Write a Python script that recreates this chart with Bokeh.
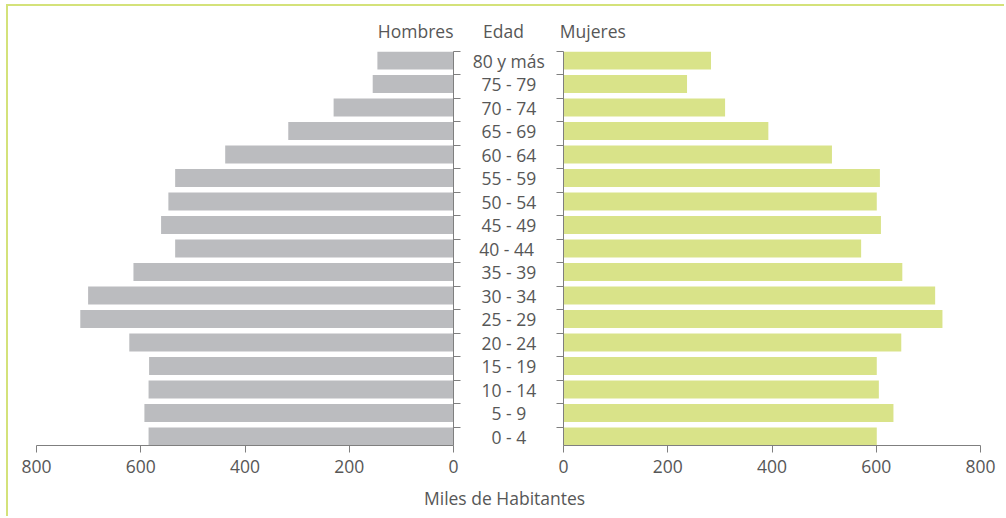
from bokeh.plotting import figure
from bokeh.models import Range1d, FixedTicker, ColumnDataSource
from bokeh.core.properties import value
from bokeh.embed import file_html
from bokeh.resources import INLINE

# ---- data ----
ages = ["0 - 4", "5 - 9", "10 - 14", "15 - 19", "20 - 24", "25 - 29", "30 - 34",
        "35 - 39", "40  - 44", "45 - 49", "50 - 54", "55 - 59", "60 - 64",
        "65 - 69", "70 - 74", "75 - 79", "80 y más"]
hombres = [585, 593, 585, 584, 622, 716, 701, 614, 534, 561, 547, 534, 438, 317, 230, 155, 146]
mujeres = [601, 633, 605, 601, 648, 727, 713, 650, 571, 609, 601, 607, 515, 393, 310, 237, 283]
x_ticks = [0, 200, 400, 600, 800]

# ---- style ----
FONT = "Open Sans"
TXT = "#575757"
AX = "#7F7F7F"
GRAY = "#BBBCBF"
GREEN = "#D9E389"
FRAME = "#D4E27A"
FS = "17.5px"

ys = list(range(len(ages)))
half = 0.383
yt = [y + half for y in ys]
src = ColumnDataSource(dict(age=ages, y=ys, h=hombres, m=mujeres))


def base(width, height, xr, yr, xloc, yloc, bl, br, bt, bb):
    f = figure(width=width, height=height, output_backend="svg", toolbar_location=None,
               tools="", x_range=xr, y_range=yr, x_axis_location=xloc, y_axis_location=yloc,
               min_border_left=bl, min_border_right=br, min_border_top=bt,
               min_border_bottom=bb, outline_line_color=None)
    f.xgrid.visible = False
    f.ygrid.visible = False
    return f


def style_axes(f):
    for ax in f.axis:
        ax.axis_line_color = AX
        ax.axis_line_width = 1
        ax.major_tick_line_color = AX
        ax.major_tick_in = 0
        ax.major_tick_out = 7
        ax.minor_tick_line_color = None
        ax.major_label_text_font = FONT
        ax.major_label_text_font_size = FS
        ax.major_label_text_color = TXT
        ax.major_label_standoff = 7
    for ax in f.yaxis:
        ax.ticker = FixedTicker(ticks=yt)
        ax.major_label_text_font_size = "0px"
        ax.major_label_text_color = None
        ax.major_label_standoff = 0
    for ax in f.xaxis:
        ax.ticker = FixedTicker(ticks=x_ticks)


# ---- text layer (full page, green frame) ----
pT = base(998, 512, Range1d(-1064.7, 849.9), Range1d(-3.489, 18.298), None, None, 0, 0, 0, 0)
pT.styles = {"position": "absolute", "left": "6px", "top": "4px",
             "border-top": f"2px solid {FRAME}", "border-left": f"2px solid {FRAME}"}
tkw = dict(text_font=value(FONT), text_font_size=FS, text_color=TXT)
pT.text(x=-104.9, y="y", text="age", source=src, text_align="center",
        text_baseline="middle", **tkw)
pT.text(x=[-211], y=[17.25], text=["Hombres"], text_align="right",
        text_baseline="alphabetic", **tkw)
pT.text(x=[-115], y=[17.25], text=["Edad"], text_align="center",
        text_baseline="alphabetic", **tkw)
pT.text(x=[-7], y=[17.25], text=["Mujeres"], text_align="left",
        text_baseline="alphabetic", **tkw)
pT.text(x=[-113], y=[-2.6], text=["Miles de Habitantes"], text_align="center",
        text_baseline="alphabetic", **tkw)

# ---- Hombres panel ----
pL = base(461, 449, Range1d(800, 0), Range1d(-half, len(ages) - 1 + half),
          "below", "right", 24, 20, 10, 45)
pL.background_fill_color = None
pL.border_fill_color = None
pL.styles = {"position": "absolute", "left": "12px", "top": "41px"}
pL.hbar(y="y", left=0, right="h", height=0.766, source=src, fill_color=GRAY, line_color=None)
style_axes(pL)

# ---- Mujeres panel ----
pR = base(461, 449, Range1d(0, 800), Range1d(-half, len(ages) - 1 + half),
          "below", "left", 20, 24, 10, 45)
pR.background_fill_color = None
pR.border_fill_color = None
pR.styles = {"position": "absolute", "left": "543px", "top": "41px"}
pR.hbar(y="y", left=0, right="m", height=0.766, source=src, fill_color=GREEN, line_color=None)
style_axes(pR)

open("out.html", "w").write(file_html([pT, pL, pR], INLINE))
